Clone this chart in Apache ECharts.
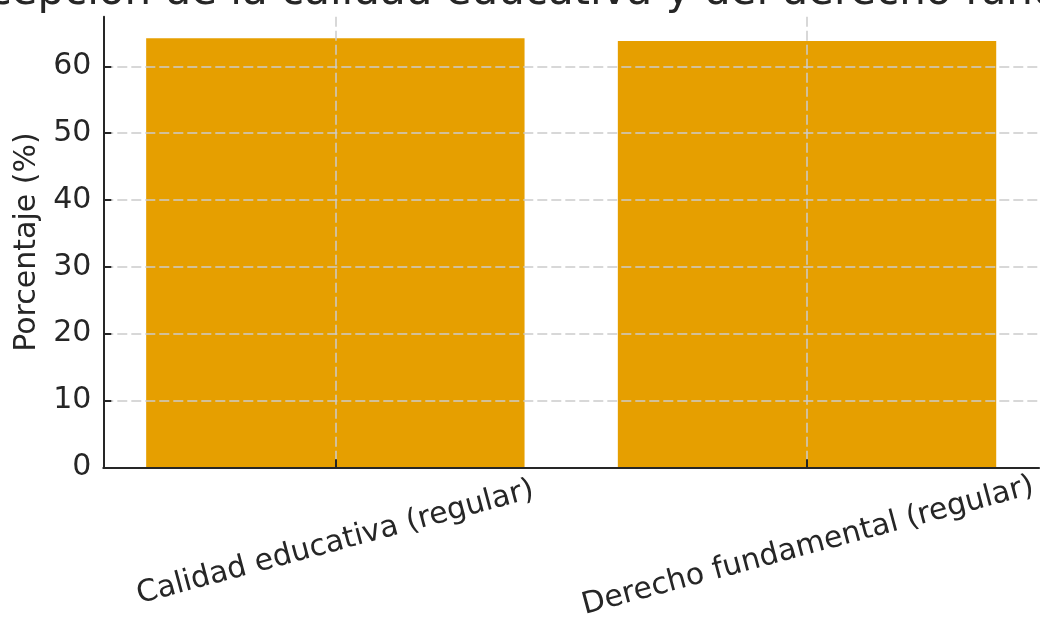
<!DOCTYPE html>
<html><head><meta charset="utf-8">
<script src="https://cdn.jsdelivr.net/npm/echarts@6/dist/echarts.min.js"></script>
<style>html,body{margin:0;padding:0;background:#fff}#c{width:1040px;height:623px}</style>
</head><body><div id="c"></div>
<script>
const titleText = 'Percepción de la calidad educativa y del derecho fundamental';
const yAxisName = 'Porcentaje (%)';
const categories = ['Calidad educativa (regular)', 'Derecho fundamental (regular)'];
const values = [64.2, 63.8];
const yTicks = [0, 10, 20, 30, 40, 50, 60];
const xTicks = [0, 1];

const X_MIN = -0.492, X_MAX = 1.492, Y_MAX = 67.41;
const GRID_LEFT = 103.3, GRID_RIGHT = -1.7, GRID_TOP = 16.8, GRID_BOTTOM = 155.7;
const gridWidth = 1040 - GRID_LEFT - GRID_RIGHT;
const barWidthPx = 0.8 * gridWidth / (X_MAX - X_MIN);
const FONT = 'DejaVu Sans';
const TXT = '#262626';
const FS = 30;

const chart = echarts.init(document.getElementById('c'), null, {renderer: 'canvas'});
chart.setOption({
  animation: false,
  backgroundColor: '#ffffff',
  title: {
    text: titleText,
    left: 572.5,
    top: -32.5,
    textAlign: 'center',
    textStyle: {fontFamily: FONT, fontSize: 42, fontWeight: 'normal', color: TXT}
  },
  grid: {left: GRID_LEFT, right: GRID_RIGHT, top: GRID_TOP, bottom: GRID_BOTTOM, containLabel: false},
  xAxis: {
    type: 'value', min: X_MIN, max: X_MAX, z: 5,
    axisLine: {show: true, onZero: false, lineStyle: {color: TXT, width: 2}},
    axisTick: {show: true, inside: true, length: 8, customValues: xTicks, lineStyle: {color: TXT, width: 2}},
    axisLabel: {
      customValues: xTicks, rotate: 15, align: 'center', verticalAlign: 'middle', margin: 75.5,
      fontFamily: FONT, fontSize: FS, color: TXT,
      formatter: v => { const i = Math.round(v); return '{c' + i + '|' + categories[i] + '}'; },
      rich: {
        c0: {fontFamily: FONT, fontSize: FS, color: TXT},
        c1: {fontFamily: FONT, fontSize: FS, color: TXT, padding: [7, 0, 0, 0]}
      }
    },
    splitLine: {show: true, lineStyle: {color: '#cccccc', width: 1.5, type: [10, 4]}}
  },
  yAxis: {
    type: 'value', min: 0, max: Y_MAX, z: 5,
    name: yAxisName, nameLocation: 'middle', nameGap: 59,
    nameTextStyle: {fontFamily: FONT, fontSize: FS, color: TXT},
    axisLine: {show: true, onZero: false, lineStyle: {color: TXT, width: 2}},
    axisTick: {show: true, inside: true, length: 8, customValues: yTicks, lineStyle: {color: TXT, width: 2}},
    axisLabel: {customValues: yTicks, margin: 12, fontFamily: FONT, fontSize: FS, color: TXT},
    splitLine: {show: true, lineStyle: {color: '#cccccc', width: 1.5, type: [10, 4]}}
  },
  series: [{
    type: 'bar',
    data: values.map((v, i) => [xTicks[i], v]),
    barWidth: barWidthPx,
    itemStyle: {color: '#E69F00'},
    z: 2
  }]
});
</script></body></html>
